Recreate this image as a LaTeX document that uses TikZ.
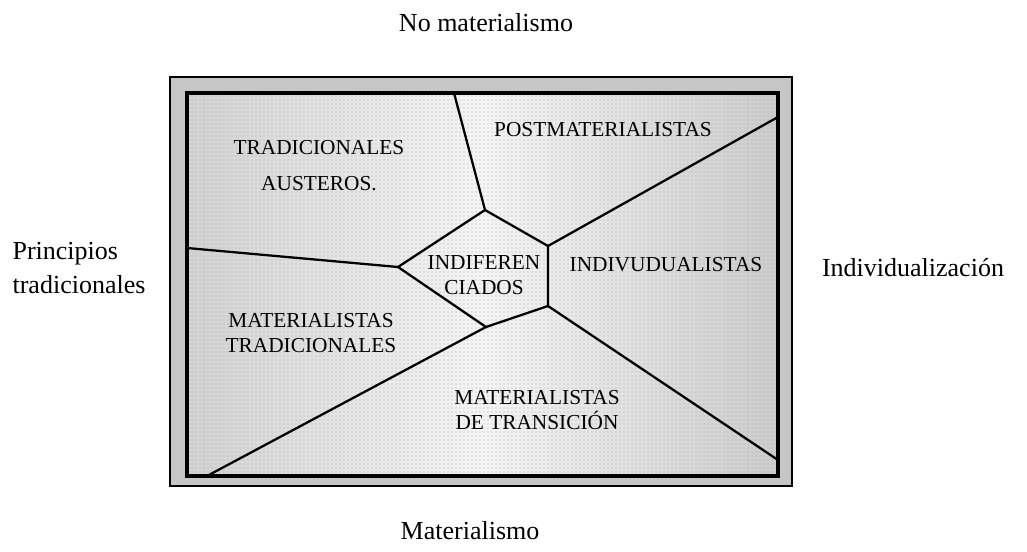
\documentclass[tikz,border=0pt]{standalone}
\usepackage{fontspec}
\setmainfont{Liberation Serif}
\usetikzlibrary{positioning,patterns}

\begin{document}
\begin{tikzpicture}[x=0.75pt,y=-0.75pt]

    \tikzstyle{commonLabel}=[font=\fontsize{19.5}{26}\selectfont, inner sep=1pt]
    \tikzstyle{axisLabel}=[commonLabel, align=center]
    \tikzstyle{region}=[font=\fontsize{16}{19}\selectfont, align=center, inner sep=1pt]
    \tikzstyle{frame}=[line width=3pt, draw=black, line cap=rect]
    \tikzstyle{divider}=[line width=1.7pt, draw=black, line join=miter]

    \useasboundingbox (0,0) rectangle (1027,552);

    % Background
    \fill[gray!45] (170,77) rectangle (792,486);
    \shade[left color=gray!35, right color=gray!40, middle color=gray!8] (187,93) rectangle (778,476);
    \fill[pattern=dots, pattern color=gray!70] (187,93) rectangle (778,476);
    \draw[line width=1pt] (170,77) rectangle (792,486);

    % Frame
    \coordinate (NW) at (187,93);
    \coordinate (NE) at (778,93);
    \coordinate (SE) at (778,476);
    \coordinate (SW) at (187,476);
    \draw[frame] (NW) -- (NE) -- (SE) -- (SW) -- cycle;

    % Central cell
    \coordinate (pTop)  at (485,210);
    \coordinate (pUpR)  at (548,246);
    \coordinate (pLowR) at (548,306);
    \coordinate (pBot)  at (486,327);
    \coordinate (pLeft) at (398,267);
    \draw[divider] (pTop) -- (pUpR) -- (pLowR) -- (pBot) -- (pLeft) -- cycle;

    % Borders between groups
    \coordinate (eTop)  at (454,93);
    \coordinate (eUpR)  at (778,117);
    \coordinate (eLowR) at (778,460);
    \coordinate (eBot)  at (207,476);
    \coordinate (eLeft) at (187,248);
    \draw[divider] (pTop)  -- (eTop);
    \draw[divider] (pUpR)  -- (eUpR);
    \draw[divider] (pLowR) -- (eLowR);
    \draw[divider] (pBot)  -- (eBot);
    \draw[divider] (pLeft) -- (eLeft);

    % Groups
    \node at (319,166) [region, font=\fontsize{16}{27}\selectfont] (TA) {TRADICIONALES\\AUSTEROS.};
    \node at (603,130) [region] (PM)  {POSTMATERIALISTAS};
    \node at (484,275) [region] (IND) {INDIFEREN\\CIADOS};
    \node at (666,265) [region] (IV)  {INDIVUDUALISTAS};
    \node at (311,333) [region] (MT)  {MATERIALISTAS\\TRADICIONALES};
    \node at (537,410) [region] (MTR) {MATERIALISTAS\\DE TRANSICIÓN};

    % Axes
    \node at (486,23)  [axisLabel] (NM)  {No materialismo};
    \node at (470,531) [axisLabel] (M)   {Materialismo};
    \node at (11,268)  [commonLabel, align=left, anchor=west] (PT) {Principios\\tradicionales};
    \node at (913,268) [axisLabel] (IZ)  {Individualización};

\end{tikzpicture}
\end{document}
